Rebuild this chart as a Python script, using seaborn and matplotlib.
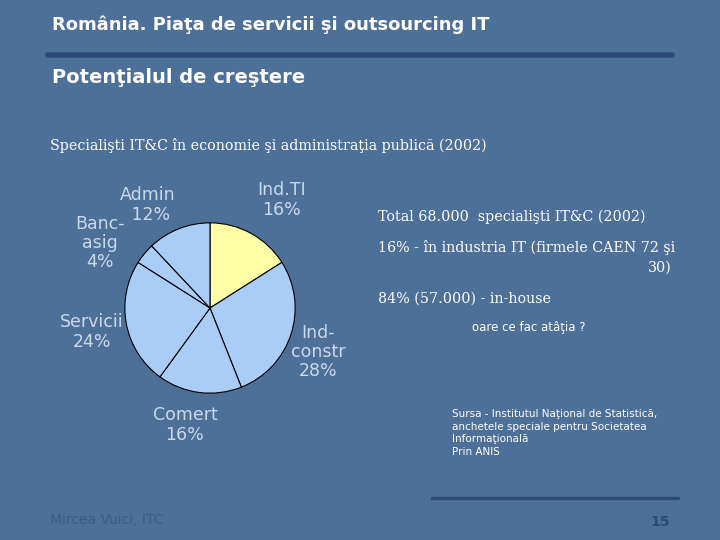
import matplotlib
matplotlib.use("Agg")
import matplotlib.pyplot as plt
import seaborn as sns

sectors = ["Ind.TI", "Ind-\nconstr", "Comert", "Servicii", "Banc-\nasig", "Admin"]
shares = [16, 28, 16, 24, 4, 12]
colors = ["#ffffa6", "#a9cdf7", "#a9cdf7", "#a9cdf7", "#a9cdf7", "#a9cdf7"]

sns.set_theme(style="white")
plt.rcParams['font.family'] = ['DejaVu Sans']

fig = plt.figure(figsize=(7.2, 5.4), dpi=100)
fig.patch.set_facecolor("#4d7099")

def fx(x): return x / 720
def fy(y): return 1 - y / 540

R = 86
ax = fig.add_axes([fx(210 - R), fy(308 + R), fx(2 * R), 2 * R / 540])
ax.pie(shares, colors=colors, startangle=90, counterclock=False,
       wedgeprops=dict(edgecolor="black", linewidth=0.8))
ax.set_xlim(-1.01, 1.01)
ax.set_ylim(-1.01, 1.01)
ax.set_aspect("equal")
ax.axis("off")

lab = "#c9d9ee"
lbl_pos = [(282, 200), (318, 352), (185, 425), (92, 332)]
for name, v, (x, y) in zip(sectors[:4], shares[:4], lbl_pos):
    fig.text(fx(x), fy(y), f"{name}\n{v}%", color=lab, fontsize=12.5, ha="center", va="center", linespacing=1.1)
fig.text(fx(100), fy(243), f"{sectors[4]}\n{shares[4]}%", color=lab, fontsize=12.5, ha="center", va="center", linespacing=1.1)
fig.text(fx(148), fy(205), f"{sectors[5]}\n {shares[5]}%", color=lab, fontsize=12.5, ha="center", va="center", linespacing=1.1)

serif = "DejaVu Serif"
fig.text(fx(52), fy(25), "România. Piaţa de servicii şi outsourcing IT", color="white",
         fontsize=13, fontweight="bold", va="center")
fig.add_artist(plt.Line2D([fx(48), fx(672)], [fy(55), fy(55)], color="#2b4a78", lw=4))
fig.text(fx(52), fy(78), "Potenţialul de creştere", color="white", fontsize=14,
         fontweight="bold", va="center")
fig.text(fx(50), fy(145), "Specialişti IT&C în economie şi administraţia publică (2002)",
         color="white", fontsize=10.3, family=serif, va="center")
fig.text(fx(378), fy(217), "Total 68.000  specialişti IT&C (2002)", color="white",
         fontsize=10.3, family=serif, va="center")
fig.text(fx(378), fy(247), "16% - în industria IT (firmele CAEN 72 şi", color="white",
         fontsize=10.3, family=serif, va="center")
fig.text(fx(672), fy(268), "30)", color="white", fontsize=10.3,
         family=serif, va="center", ha="right")
fig.text(fx(378), fy(299), "84% (57.000) - in-house", color="white",
         fontsize=10.3, family=serif, va="center")
fig.text(fx(472), fy(327), "oare ce fac atâţia ?", color="white", fontsize=8.5, va="center")
fig.text(fx(452), fy(433), "Sursa - Institutul Naţional de Statistică,\nanchetele speciale pentru Societatea\nInformaţională\nPrin ANIS",
         color="white", fontsize=7.5, va="center", linespacing=1.3)
fig.add_artist(plt.Line2D([fx(432), fx(678)], [fy(498), fy(498)], color="#2b4a78", lw=2.5))
fig.text(fx(50), fy(520), "Mircea Vuici, ITC", color="#3a5c88", fontsize=10, va="center")
fig.text(fx(670), fy(522), "15", color="#2b4a78", fontsize=10, va="center", ha="right", fontweight="bold")

fig.savefig("out.png", dpi=100, facecolor=fig.get_facecolor())
